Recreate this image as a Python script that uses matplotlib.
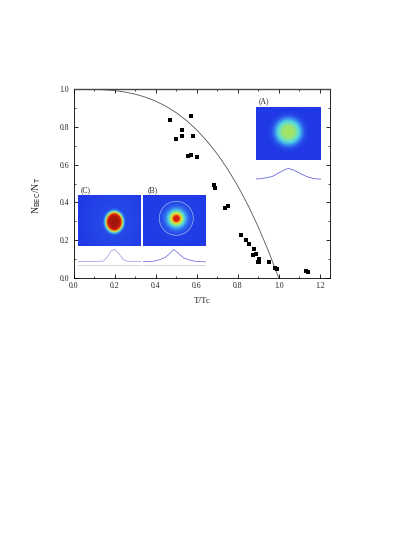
import numpy as np
import matplotlib
matplotlib.use('Agg')
import matplotlib.pyplot as plt
from matplotlib.colors import LinearSegmentedColormap
from matplotlib.ticker import MultipleLocator

W, H = 415, 537
plt.rcParams['font.family'] = ['Liberation Serif', 'DejaVu Serif']

t_data = [0.47, 0.50, 0.575, 0.528, 0.528, 0.58, 0.56, 0.575, 0.604, 0.685, 0.692,
          0.736, 0.752, 0.817, 0.843, 0.855, 0.88, 0.889, 0.877, 0.903, 0.898, 0.903,
          0.954, 0.981, 0.991, 1.134, 1.145]
n_data = [0.836, 0.737, 0.859, 0.781, 0.753, 0.753, 0.645, 0.651, 0.64, 0.49, 0.476,
          0.369, 0.379, 0.228, 0.2, 0.18, 0.153, 0.127, 0.122, 0.1, 0.087, 0.085,
          0.085, 0.053, 0.048, 0.037, 0.032]

t_curve = [0.0, 0.1, 0.2, 0.25, 0.3, 0.35, 0.4, 0.45, 0.5, 0.55, 0.6, 0.65, 0.7, 0.75,
           0.8, 0.85, 0.9, 0.95, 1.0]
n_curve = [1.0, 0.999, 0.992, 0.984, 0.973, 0.957, 0.936, 0.909, 0.875, 0.834, 0.784,
           0.725, 0.657, 0.578, 0.488, 0.386, 0.271, 0.143, 0.0]

xticks = [0.0, 0.2, 0.4, 0.6, 0.8, 1.0, 1.2]
yticks = [0.0, 0.2, 0.4, 0.6, 0.8, 1.0]

# radial colour-level profiles of the three absorption images (radius in px, level 0-1)
radius_a = [0, 6, 9, 12, 14, 17, 22, 40]
level_a = [0.55, 0.52, 0.44, 0.33, 0.20, 0.05, 0.0, 0.0]
radius_b = [0, 3, 4.5, 6, 8, 10, 13, 18, 40]
level_b = [0.92, 0.87, 0.70, 0.55, 0.40, 0.25, 0.10, 0.02, 0.0]
radius_c = [0, 5, 7, 8, 9, 10, 11.5, 40]
level_c = [1.0, 0.97, 0.86, 0.70, 0.45, 0.25, 0.05, 0.0]

# profiles under the images: fraction of the width, height in px
prof_x_a = [0.0, 0.1, 0.25, 0.35, 0.45, 0.5, 0.58, 0.7, 0.8, 0.9, 1.0]
prof_y_a = [0.5, 1.0, 3.0, 6.5, 10.0, 11.0, 9.5, 5.5, 2.5, 0.8, 0.3]
prof_x_b = [0.0, 0.15, 0.25, 0.35, 0.42, 0.49, 0.56, 0.65, 0.75, 0.85, 1.0]
prof_y_b = [0.3, 0.6, 2.0, 4.5, 8.0, 12.5, 9.0, 4.0, 1.8, 0.6, 0.2]
prof_x_c = [0.0, 0.2, 0.4, 0.47, 0.52, 0.58, 0.64, 0.72, 0.78, 1.0]
prof_y_c = [0.1, 0.2, 0.5, 5.0, 10.5, 12.5, 9.0, 2.0, 0.5, 0.1]

cold = LinearSegmentedColormap.from_list('absorption', [
    (0.0, '#2038e6'), (0.25, '#3c96f0'), (0.4, '#5adcdc'), (0.55, '#aae65a'),
    (0.7, '#fadc28'), (0.85, '#e62814'), (1.0, '#a0140a')])

def px_axes(fig, x0, y0, x1, y1, **kw):
    return fig.add_axes([x0 / W, 1 - y1 / H, (x1 - x0) / W, (y1 - y0) / H], **kw)

fig = plt.figure(figsize=(W / 100, H / 100), dpi=100)
ax = px_axes(fig, 73.5, 89, 330, 278)
ax.set_xlim(0, 1.25)
ax.set_ylim(0, 1.0)
ax.plot(t_curve, n_curve, color='#555555', lw=0.6)
ax.plot(t_data, n_data, ls='none', marker='s', ms=3.5, color='black', mew=0)
ax.set_xticks(xticks)
ax.set_yticks(yticks)
ax.set_xticklabels([f'{v:.1f}' for v in xticks], fontsize=5.6, color='#222222')
ax.set_yticklabels([f'{v:.1f}' for v in yticks], fontsize=5.6, color='#222222')
ax.xaxis.set_minor_locator(MultipleLocator(0.1))
ax.yaxis.set_minor_locator(MultipleLocator(0.1))
ax.tick_params(which='major', direction='in', top=True, right=True, length=2.6, width=0.6, pad=3)
ax.tick_params(which='minor', direction='in', top=True, right=True, length=1.4, width=0.5)
for s in ax.spines.values():
    s.set_linewidth(0.6)
ax.spines['top'].set_linewidth(1.0)
ax.spines['top'].set_color('#444444')
ax.set_xlabel('T/Tc', fontsize=6.5, color='#222222', labelpad=5)
fig.text(37 / W, 1 - 195 / H, r'N$_{\mathrm{BEC}}$/N$_{\mathrm{T}}$', fontsize=7, color='#222222',
         rotation=90, ha='center', va='center')

def image(box, center, radius, level, aspect=1.0):
    x0, y0, x1, y1 = box
    a = px_axes(fig, x0, y0, x1, y1)
    xs = np.linspace(x0, x1, 64)
    ys = np.linspace(y0, y1, 52)
    gx, gy = np.meshgrid(xs, ys)
    r = np.hypot(gx - center[0], (gy - center[1]) * aspect)
    a.imshow(np.interp(r, radius, level), cmap=cold, vmin=0, vmax=1,
             extent=(x0, x1, y1, y0), aspect='auto', interpolation='bilinear')
    a.axis('off')
    return a

def profile(x0, x1, base, px, py, color):
    a = px_axes(fig, x0, base - 15, x1, base + 5)
    a.set_xlim(0, 1)
    a.set_ylim(-5, 15)
    a.plot(px, py, color=color, lw=0.6)
    a.axis('off')
    return a

# (A)
image((256, 107, 320.7, 160), (288.3, 131.7), radius_a, level_a)
profile(256, 320.7, 179.5, prof_x_a, prof_y_a, '#6a6ae0')
# (B)
b = image((143, 195, 205.7, 245.7), (176.3, 218.3), radius_b, level_b)
b.add_patch(plt.Circle((176.3, 218.3), 17, fill=False, ec='#9fb8ee', lw=0.5))
profile(143, 205.7, 262, prof_x_b, prof_y_b, '#7a7ae0')
# (C)
image((78.3, 195, 140.7, 245.7), (114.3, 221.7), radius_c, level_c, aspect=0.85)
profile(78.3, 140.7, 261.7, prof_x_c, prof_y_c, '#a8a8ec')

for x0, x1 in [(78.3, 140.7), (143, 205.7)]:
    g = px_axes(fig, x0, 263.5, x1, 266.5)
    g.axhline(0.5, color='#d0d0d0', lw=0.6)
    g.set_ylim(0, 1)
    g.axis('off')

for s, x, y in [('(A)', 264, 101), ('(B)', 152.5, 190), ('(C)', 86, 190)]:
    fig.text(x / W, 1 - y / H, s, fontsize=5.5, ha='center', va='center', color='#222222')

fig.savefig('out.png', dpi=100)
